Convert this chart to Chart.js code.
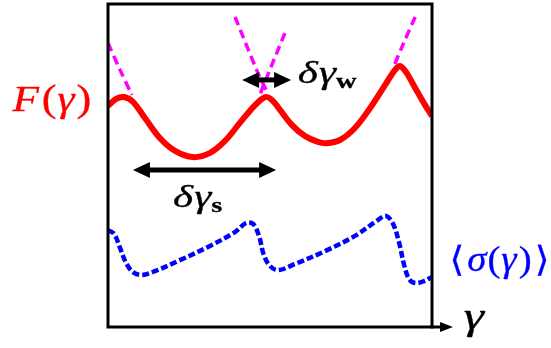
<!DOCTYPE html>
<html><head><meta charset="utf-8">
<script src="https://cdn.jsdelivr.net/npm/chart.js@4/dist/chart.umd.min.js"></script>
<style>html,body{margin:0;padding:0;background:#fff}#wrap{width:551px;height:348px}</style>
</head><body><div id="wrap"><canvas id="c" width="551" height="348"></canvas></div>
<script>
// Free energy F(gamma)
const freeX = [0,2.5,4.9,7.7,11.4,16.0,20.7,26.2,31.5,36.1,40.7,45.4,48.5,50.6,53.1,56.8,60.8,64.8,67.3,71.6,76.2,80.9,85.5,88.6,90.1,92.0,94.8,97.5,100];
const freeY = [68.4,70.6,71.2,69.7,64.7,58.5,54.5,52.6,53.9,57.6,63.2,68.7,71.2,70.3,67.2,62.5,59.1,57.3,56.9,57.9,61.6,67.8,74.9,79.6,80.8,78.9,74.0,69.3,65.3];
// Stress <sigma(gamma)>
const sigX = [0,1.9,3.7,5.6,7.7,10.5,14.5,22.2,31.5,39.2,42.6,44.8,46.6,48.1,50.0,52.5,57.7,67.0,76.2,83.3,85.8,88.0,89.8,91.4,92.9,94.8,97.5,100];
const sigY = [30.0,28.8,24.5,19.8,17.0,16.1,17.3,20.7,25.1,29.4,32.2,31.9,28.2,22.3,18.9,17.6,19.5,23.5,28.2,33.1,34.4,31.9,26.3,19.2,14.9,13.6,14.2,15.5];
// Parabola continuations (magenta dashed)
const para1 = [[0,87.9],[3.7,79.6],[7.4,71.8]];
const para2 = [[39.2,96.0],[46.3,78.6],[49.1,72.8]];
const para3 = [[54.6,91.0],[47.8,74.3],[46.9,71.8]];
const para4 = [[94.8,96.0],[91.2,87.8],[88.0,80.2]];
// Double arrows [x1,x2,y]
const arrowW = [41.4,56.5,76.5];
const arrowS = [7.7,51.9,48.6];

const FAM = '"Liberation Serif", "DejaVu Serif", serif';
const toPts = (xs, ys) => xs.map((x,i)=>({x, y: ys[i]}));
const pairPts = a => a.map(p=>({x:p[0], y:p[1]}));
const magenta = d => ({data: pairPts(d), borderColor:'#ff00ff', borderWidth:3.5, borderDash:[9,5], pointRadius:0, tension:0.3, fill:false});

const deco = {
  id:'deco',
  afterDatasetsDraw(chart){
    const {ctx, chartArea:a, scales:{x,y}} = chart;
    ctx.save();
    ctx.strokeStyle='#000'; ctx.lineWidth=3; ctx.lineCap='square';
    ctx.strokeRect(a.left, a.top, a.right-a.left, a.bottom-a.top);
    ctx.beginPath(); ctx.moveTo(a.right, a.bottom); ctx.lineTo(a.right+10, a.bottom); ctx.stroke();
    ctx.fillStyle='#000';
    ctx.beginPath(); ctx.moveTo(a.right+21, a.bottom); ctx.lineTo(a.right+8, a.bottom-5); ctx.lineTo(a.right+8, a.bottom+5); ctx.closePath(); ctx.fill();
    const dbl = (arr) => {
      const x1=x.getPixelForValue(arr[0]), x2=x.getPixelForValue(arr[1]), yy=y.getPixelForValue(arr[2]);
      ctx.lineWidth=5; ctx.lineCap='butt';
      ctx.beginPath(); ctx.moveTo(x1+12, yy); ctx.lineTo(x2-12, yy); ctx.stroke();
      ctx.beginPath(); ctx.moveTo(x1, yy); ctx.lineTo(x1+17, yy-8); ctx.lineTo(x1+17, yy+8); ctx.closePath(); ctx.fill();
      ctx.beginPath(); ctx.moveTo(x2, yy); ctx.lineTo(x2-17, yy-8); ctx.lineTo(x2-17, yy+8); ctx.closePath(); ctx.fill();
    };
    dbl(arrowW); dbl(arrowS);
    ctx.textBaseline='alphabetic'; ctx.textAlign='left';
    const txt = (parts, dx, dy, sx) => {
      let px = x.getPixelForValue(dx), py = y.getPixelForValue(dy);
      for (const p of parts){
        ctx.save();
        ctx.font = p.f; ctx.fillStyle = p.c; ctx.strokeStyle = p.c; ctx.lineWidth = 0.3;
        ctx.translate(px, py + (p.o||0)); ctx.scale(sx, 1);
        ctx.fillText(p.t, 0, 0); ctx.strokeText(p.t, 0, 0);
        const w = ctx.measureText(p.t).width;
        ctx.restore();
        px += w*sx + (p.k||0);
      }
    };
    const it = s => 'italic '+s+'px '+FAM;
    const rm = s => s+'px '+FAM;
    const bd = s => 'bold '+s+'px '+FAM;
    const R='#ff0000', B='#0000ff', K='#000';
    txt([{t:'F',f:it(36),c:R,k:3},{t:'(',f:rm(37),c:R,k:1},{t:'γ',f:it(36),c:R,k:2},{t:')',f:rm(37),c:R}], -29.5, 66.8, 1.2);
    txt([{t:'δ',f:it(32),c:K,k:1},{t:'γ',f:it(32),c:K},{t:'w',f:bd(21),c:K,o:5}], 58.6, 75.6, 1.35);
    txt([{t:'δ',f:it(32),c:K,k:1},{t:'γ',f:it(32),c:K},{t:'s',f:bd(21),c:K,o:5}], 20.1, 37.3, 1.35);
    txt([{t:'⟨',f:rm(35),c:B,k:3},{t:'σ',f:it(36),c:B,k:1},{t:'(',f:rm(36),c:B,k:1},{t:'γ',f:it(36),c:B,k:2},{t:')',f:rm(36),c:B,k:3},{t:'⟩',f:rm(35),c:B}], 105.4, 17.2, 1.08);
    txt([{t:'γ',f:it(38),c:K}], 109.8, -0.6, 1.35);
    ctx.restore();
  }
};

function build(){
  new Chart(document.getElementById('c'), {
    type:'line',
    data:{datasets:[
      magenta(para1), magenta(para2), magenta(para3), magenta(para4),
      {data: toPts(freeX, freeY), borderColor:'#ff0000', borderWidth:6, pointRadius:0, tension:0.35, fill:false},
      {data: toPts(sigX, sigY), borderColor:'#0000ff', borderWidth:4.5, borderDash:[7,3], pointRadius:0, tension:0.35, fill:false}
    ]},
    options:{
      responsive:false, animation:false, events:[],
      layout:{padding:{left:108, top:4, right:119, bottom:21}},
      plugins:{legend:{display:false}, tooltip:{enabled:false}},
      scales:{
        x:{type:'linear', min:0, max:100, display:false},
        y:{type:'linear', min:0, max:100, display:false}
      }
    },
    plugins:[deco]
  });
}
const loads = ['italic 36px "Liberation Serif"','36px "Liberation Serif"','bold 22px "Liberation Serif"'].map(f=>document.fonts.load(f, 'Fγδσ()ws'));
Promise.all(loads).then(build, build);
</script></body></html>
